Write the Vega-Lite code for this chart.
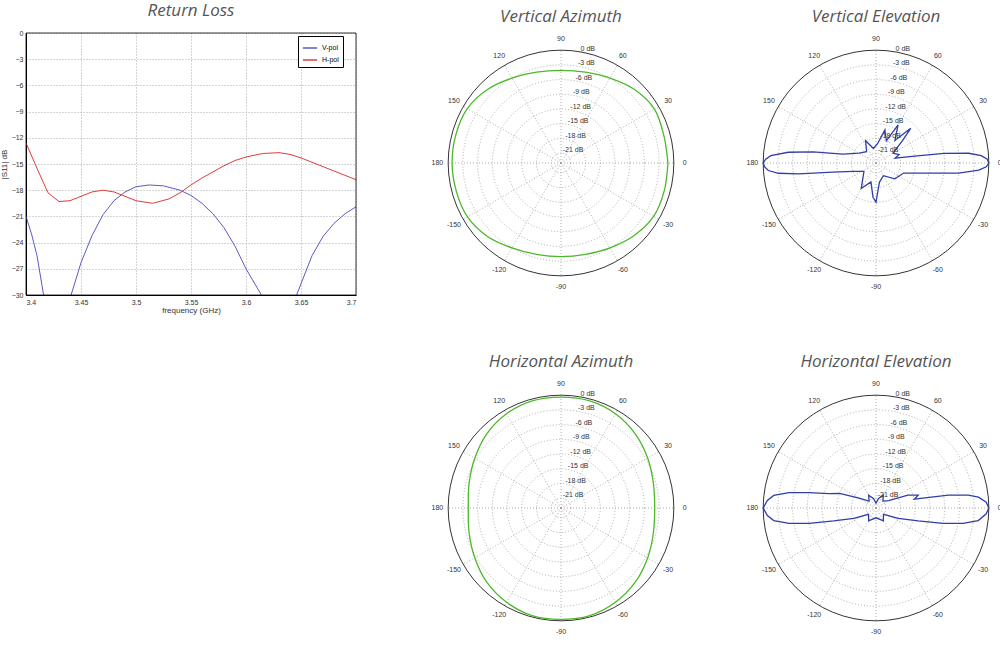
{
  "$schema": "https://vega.github.io/schema/vega-lite/v6.json",
  "padding": {"left": 0, "top": 2, "right": 0, "bottom": 0},
  "config": {
    "view": {"stroke": null},
    "font": "Liberation Sans",
    "title": {"font": "Open Sans", "fontStyle": "italic", "fontWeight": "normal", "fontSize": 17, "color": "#555555", "anchor": "middle", "offset": 7},
    "axis": {"labelFontSize": 7, "titleFontSize": 8, "titleFontWeight": "normal", "labelColor": "#333", "titleColor": "#333", "domainColor": "black", "tickColor": "black", "tickSize": 0, "labelPadding": 3, "labelOverlap": false, "gridColor": "#aaaaaa", "gridDash": [1, 2]}
  },
  "datasets": {
    "rl": [
      {"f": 3.40, "db": -21.0, "pol": "V-pol"}, {"f": 3.405, "db": -23.0, "pol": "V-pol"}, {"f": 3.41, "db": -25.5, "pol": "V-pol"},
      {"f": 3.416, "db": -30.0, "pol": "V-pol"}, {"f": 3.43, "db": -38.0, "pol": "V-pol"}, {"f": 3.441, "db": -30.0, "pol": "V-pol"},
      {"f": 3.45, "db": -26.3, "pol": "V-pol"}, {"f": 3.46, "db": -23.2, "pol": "V-pol"}, {"f": 3.47, "db": -20.8, "pol": "V-pol"},
      {"f": 3.48, "db": -19.2, "pol": "V-pol"}, {"f": 3.49, "db": -18.2, "pol": "V-pol"}, {"f": 3.50, "db": -17.6, "pol": "V-pol"},
      {"f": 3.512, "db": -17.4, "pol": "V-pol"}, {"f": 3.525, "db": -17.5, "pol": "V-pol"}, {"f": 3.54, "db": -18.0, "pol": "V-pol"},
      {"f": 3.55, "db": -18.6, "pol": "V-pol"}, {"f": 3.56, "db": -19.5, "pol": "V-pol"}, {"f": 3.57, "db": -20.7, "pol": "V-pol"},
      {"f": 3.58, "db": -22.3, "pol": "V-pol"}, {"f": 3.59, "db": -24.4, "pol": "V-pol"}, {"f": 3.60, "db": -27.0, "pol": "V-pol"},
      {"f": 3.614, "db": -30.0, "pol": "V-pol"}, {"f": 3.63, "db": -38.0, "pol": "V-pol"}, {"f": 3.646, "db": -30.0, "pol": "V-pol"},
      {"f": 3.66, "db": -25.5, "pol": "V-pol"}, {"f": 3.67, "db": -23.3, "pol": "V-pol"}, {"f": 3.68, "db": -21.8, "pol": "V-pol"},
      {"f": 3.69, "db": -20.7, "pol": "V-pol"}, {"f": 3.70, "db": -19.9, "pol": "V-pol"},
      {"f": 3.40, "db": -12.6, "pol": "H-pol"}, {"f": 3.41, "db": -15.5, "pol": "H-pol"}, {"f": 3.42, "db": -18.3, "pol": "H-pol"},
      {"f": 3.43, "db": -19.3, "pol": "H-pol"}, {"f": 3.44, "db": -19.2, "pol": "H-pol"}, {"f": 3.45, "db": -18.7, "pol": "H-pol"},
      {"f": 3.46, "db": -18.2, "pol": "H-pol"}, {"f": 3.47, "db": -18.0, "pol": "H-pol"}, {"f": 3.48, "db": -18.2, "pol": "H-pol"},
      {"f": 3.49, "db": -18.7, "pol": "H-pol"}, {"f": 3.50, "db": -19.2, "pol": "H-pol"}, {"f": 3.515, "db": -19.5, "pol": "H-pol"},
      {"f": 3.53, "db": -19.0, "pol": "H-pol"}, {"f": 3.54, "db": -18.3, "pol": "H-pol"}, {"f": 3.55, "db": -17.4, "pol": "H-pol"},
      {"f": 3.56, "db": -16.6, "pol": "H-pol"}, {"f": 3.57, "db": -15.9, "pol": "H-pol"}, {"f": 3.58, "db": -15.2, "pol": "H-pol"},
      {"f": 3.59, "db": -14.6, "pol": "H-pol"}, {"f": 3.60, "db": -14.2, "pol": "H-pol"}, {"f": 3.615, "db": -13.8, "pol": "H-pol"},
      {"f": 3.63, "db": -13.7, "pol": "H-pol"}, {"f": 3.64, "db": -13.9, "pol": "H-pol"}, {"f": 3.65, "db": -14.3, "pol": "H-pol"},
      {"f": 3.66, "db": -14.8, "pol": "H-pol"}, {"f": 3.67, "db": -15.3, "pol": "H-pol"}, {"f": 3.68, "db": -15.8, "pol": "H-pol"},
      {"f": 3.69, "db": -16.3, "pol": "H-pol"}, {"f": 3.70, "db": -16.8, "pol": "H-pol"}
    ],
    "rings": [{"db": -21}, {"db": -18}, {"db": -15}, {"db": -12}, {"db": -9}, {"db": -6}, {"db": -3}],
    "outer": [{"db": 0}],
    "spokes": [{"a": 0}, {"a": 30}, {"a": 60}, {"a": 90}, {"a": 120}, {"a": 150}, {"a": 180}, {"a": 210}, {"a": 240}, {"a": 270}, {"a": 300}, {"a": 330}],
    "angLabels": [
      {"a": 0, "t": "0"}, {"a": 30, "t": "30"}, {"a": 60, "t": "60"}, {"a": 90, "t": "90"}, {"a": 120, "t": "120"}, {"a": 150, "t": "150"},
      {"a": 180, "t": "180"}, {"a": 210, "t": "-150"}, {"a": 240, "t": "-120"}, {"a": 270, "t": "-90"}, {"a": 300, "t": "-60"}, {"a": 330, "t": "-30"}
    ],
    "dbLabels": [
      {"db": 0, "t": "0 dB"}, {"db": -3, "t": "-3 dB"}, {"db": -6, "t": "-6 dB"}, {"db": -9, "t": "-9 dB"},
      {"db": -12, "t": "-12 dB"}, {"db": -15, "t": "-15 dB"}, {"db": -18, "t": "-18 dB"}, {"db": -21, "t": "-21 dB"}
    ],
    "vaz": [
      {"a": 0, "db": -1.2}, {"a": 15, "db": -1.3}, {"a": 30, "db": -1.0}, {"a": 45, "db": -1.8}, {"a": 60, "db": -3.0}, {"a": 75, "db": -3.8},
      {"a": 90, "db": -4.1}, {"a": 105, "db": -3.8}, {"a": 120, "db": -3.0}, {"a": 135, "db": -1.8}, {"a": 150, "db": -0.9}, {"a": 165, "db": -0.8},
      {"a": 180, "db": -0.8}, {"a": 195, "db": -0.9}, {"a": 210, "db": -1.0}, {"a": 225, "db": -1.8}, {"a": 240, "db": -3.0}, {"a": 255, "db": -3.7},
      {"a": 270, "db": -3.9}, {"a": 285, "db": -3.7}, {"a": 300, "db": -3.0}, {"a": 315, "db": -2.0}, {"a": 330, "db": -1.2}, {"a": 345, "db": -1.2},
      {"a": 360, "db": -1.2}
    ],
    "haz": [
      {"a": 0, "db": -3.9}, {"a": 15, "db": -3.5}, {"a": 30, "db": -2.6}, {"a": 45, "db": -1.6}, {"a": 60, "db": -0.8}, {"a": 75, "db": -0.4},
      {"a": 90, "db": -0.4}, {"a": 105, "db": -0.4}, {"a": 120, "db": -0.8}, {"a": 135, "db": -1.6}, {"a": 150, "db": -2.7}, {"a": 165, "db": -3.6},
      {"a": 180, "db": -4.1}, {"a": 195, "db": -3.6}, {"a": 210, "db": -2.7}, {"a": 225, "db": -1.6}, {"a": 240, "db": -0.8}, {"a": 255, "db": -0.3},
      {"a": 270, "db": -0.3}, {"a": 285, "db": -0.3}, {"a": 300, "db": -0.8}, {"a": 315, "db": -1.6}, {"a": 330, "db": -2.6}, {"a": 345, "db": -3.5},
      {"a": 360, "db": -3.9}
    ],
    "vel": [
      {"a": 0, "db": 0}, {"a": 2, "db": -0.3}, {"a": 4, "db": -1.5}, {"a": 6, "db": -4}, {"a": 8, "db": -9}, {"a": 10, "db": -15},
      {"a": 14, "db": -19}, {"a": 20, "db": -18}, {"a": 30, "db": -19}, {"a": 40, "db": -16}, {"a": 45, "db": -13}, {"a": 50, "db": -17},
      {"a": 60, "db": -14}, {"a": 65, "db": -18}, {"a": 75, "db": -16}, {"a": 85, "db": -19}, {"a": 100, "db": -20}, {"a": 115, "db": -18},
      {"a": 130, "db": -20}, {"a": 150, "db": -19}, {"a": 165, "db": -16}, {"a": 170, "db": -10}, {"a": 173, "db": -5}, {"a": 176, "db": -1.5},
      {"a": 178, "db": -0.5}, {"a": 180, "db": 0}, {"a": 182, "db": -0.3}, {"a": 184, "db": -1}, {"a": 186, "db": -3}, {"a": 188, "db": -7},
      {"a": 192, "db": -14}, {"a": 200, "db": -18}, {"a": 215, "db": -20}, {"a": 240, "db": -17}, {"a": 255, "db": -19}, {"a": 265, "db": -16},
      {"a": 270, "db": -15}, {"a": 280, "db": -19}, {"a": 300, "db": -20}, {"a": 320, "db": -18}, {"a": 340, "db": -17}, {"a": 350, "db": -11},
      {"a": 353, "db": -6}, {"a": 356, "db": -2}, {"a": 358, "db": -0.5}, {"a": 360, "db": 0}
    ],
    "hel": [
      {"a": 0, "db": 0}, {"a": 3, "db": -0.5}, {"a": 6, "db": -2}, {"a": 8, "db": -4}, {"a": 10, "db": -8}, {"a": 13, "db": -15},
      {"a": 17, "db": -14}, {"a": 22, "db": -16}, {"a": 30, "db": -20}, {"a": 45, "db": -21}, {"a": 60, "db": -20}, {"a": 75, "db": -21},
      {"a": 90, "db": -22}, {"a": 105, "db": -21}, {"a": 120, "db": -20}, {"a": 135, "db": -21}, {"a": 150, "db": -19}, {"a": 158, "db": -15},
      {"a": 163, "db": -13}, {"a": 167, "db": -9}, {"a": 170, "db": -5}, {"a": 173, "db": -2}, {"a": 176, "db": -0.8}, {"a": 180, "db": 0},
      {"a": 184, "db": -0.8}, {"a": 187, "db": -2}, {"a": 190, "db": -5}, {"a": 193, "db": -9}, {"a": 197, "db": -14}, {"a": 205, "db": -18},
      {"a": 220, "db": -21}, {"a": 240, "db": -20}, {"a": 270, "db": -21}, {"a": 300, "db": -20}, {"a": 320, "db": -21}, {"a": 335, "db": -18},
      {"a": 343, "db": -14}, {"a": 347, "db": -9}, {"a": 350, "db": -5}, {"a": 353, "db": -2}, {"a": 357, "db": -0.5}, {"a": 360, "db": 0}
    ]
  },
  "spacing": 74,
  "hconcat": [
    {
      "title": {"text": "Return Loss", "offset": 9},
      "width": 330,
      "height": 262,
      "layer": [
        {
          "data": {"name": "rl"},
          "mark": {"type": "line", "clip": true, "strokeWidth": 1},
          "encoding": {
            "x": {"field": "f", "type": "quantitative", "title": "frequency (GHz)", "scale": {"domain": [3.4, 3.7], "nice": false},
                  "axis": {"values": [3.4, 3.45, 3.5, 3.55, 3.6, 3.65, 3.7], "format": "~g", "titlePadding": 1}},
            "y": {"field": "db", "type": "quantitative", "title": "|S11| dB", "scale": {"domain": [-30, 0], "nice": false},
                  "axis": {"values": [-30, -27, -24, -21, -18, -15, -12, -9, -6, -3, 0], "tickCount": 11, "labelOverlap": false, "labelFlush": false, "titlePadding": 3}},
            "color": {"field": "pol", "type": "nominal", "title": null, "sort": ["V-pol", "H-pol"],
                      "scale": {"domain": ["V-pol", "H-pol"], "range": ["#5a5ac8", "#e03c3c"]},
                      "legend": {"orient": "none", "legendX": 272, "legendY": 3, "strokeColor": "black", "fillColor": "white", "padding": 4,
                                 "labelFontSize": 7, "symbolType": "stroke", "symbolSize": 200, "rowPadding": 1}}
          }
        },
        {
          "data": {"values": [{"x0": 3.4, "x1": 3.7, "y0": -30, "y1": 0}]},
          "mark": {"type": "rect", "fill": null, "stroke": "black", "strokeWidth": 0.8},
          "encoding": {"x": {"field": "x0", "type": "quantitative"}, "x2": {"field": "x1"}, "y": {"field": "y0", "type": "quantitative"}, "y2": {"field": "y1"}}
        }
      ]
    },
    {
      "spacing": 55,
      "hconcat": [
        {
          "spacing": 60,
          "vconcat": [
            {
              "title": "Vertical Azimuth", "width": 260, "height": 260,
              "layer": [
                {"data": {"name": "rings"}, "transform": [{"calculate": "datum.db + 23", "as": "r"}, {"calculate": "0", "as": "c"}],
                 "mark": {"type": "point", "shape": "circle", "filled": false, "stroke": "#999999", "strokeDash": [1, 2], "strokeWidth": 0.8, "opacity": 1},
                 "encoding": {"x": {"field": "c", "type": "quantitative", "scale": {"domain": [-26.5, 26.5], "nice": false}, "axis": null},
                              "y": {"field": "c", "type": "quantitative", "scale": {"domain": [-26.5, 26.5], "nice": false}, "axis": null},
                              "size": {"field": "r", "type": "quantitative", "legend": null, "scale": {"type": "pow", "exponent": 2, "domain": [0, 26.5], "range": [0, 67600], "zero": true}}}},
                {"data": {"name": "outer"}, "transform": [{"calculate": "datum.db + 23", "as": "r"}, {"calculate": "0", "as": "c"}],
                 "mark": {"type": "point", "shape": "circle", "filled": false, "stroke": "black", "strokeWidth": 0.8, "opacity": 1},
                 "encoding": {"x": {"field": "c", "type": "quantitative"}, "y": {"field": "c", "type": "quantitative"},
                              "size": {"field": "r", "type": "quantitative", "legend": null, "scale": {"type": "pow", "exponent": 2, "domain": [0, 26.5], "range": [0, 67600], "zero": true}}}},
                {"data": {"name": "spokes"}, "transform": [{"calculate": "0", "as": "c"}, {"calculate": "23*cos(datum.a*PI/180)", "as": "x2"}, {"calculate": "23*sin(datum.a*PI/180)", "as": "y2"}],
                 "mark": {"type": "rule", "stroke": "#999999", "strokeDash": [1, 2], "strokeWidth": 0.8},
                 "encoding": {"x": {"field": "c", "type": "quantitative"}, "y": {"field": "c", "type": "quantitative"}, "x2": {"field": "x2"}, "y2": {"field": "y2"}}},
                {"data": {"name": "vaz"}, "transform": [{"calculate": "max(0, datum.db + 23)", "as": "r"}, {"calculate": "datum.r*cos(datum.a*PI/180)", "as": "x"}, {"calculate": "datum.r*sin(datum.a*PI/180)", "as": "y"}],
                 "mark": {"type": "line", "color": "#4cb82a", "strokeWidth": 1.3, "interpolate": "cardinal"},
                 "encoding": {"x": {"field": "x", "type": "quantitative"}, "y": {"field": "y", "type": "quantitative"}, "order": {"field": "a", "type": "quantitative"}}},
                {"data": {"name": "angLabels"}, "transform": [{"calculate": "25.2*cos(datum.a*PI/180)", "as": "x"}, {"calculate": "25.2*sin(datum.a*PI/180)", "as": "y"}],
                 "mark": {"type": "text", "fontSize": 7, "color": "#333", "baseline": "middle"},
                 "encoding": {"x": {"field": "x", "type": "quantitative"}, "y": {"field": "y", "type": "quantitative"}, "text": {"field": "t", "type": "nominal"}}},
                {"data": {"name": "dbLabels"}, "transform": [{"calculate": "(datum.db + 23)*cos(80*PI/180)", "as": "x"}, {"calculate": "(datum.db + 23)*sin(80*PI/180)", "as": "y"}],
                 "mark": {"type": "text", "fontSize": 7, "color": "#333", "align": "left", "baseline": "bottom"},
                 "encoding": {"x": {"field": "x", "type": "quantitative"}, "y": {"field": "y", "type": "quantitative"}, "text": {"field": "t", "type": "nominal"}}}
              ]
            },
            {
              "title": "Horizontal Azimuth", "width": 260, "height": 260,
              "layer": [
                {"data": {"name": "rings"}, "transform": [{"calculate": "datum.db + 23", "as": "r"}, {"calculate": "0", "as": "c"}],
                 "mark": {"type": "point", "shape": "circle", "filled": false, "stroke": "#999999", "strokeDash": [1, 2], "strokeWidth": 0.8, "opacity": 1},
                 "encoding": {"x": {"field": "c", "type": "quantitative", "scale": {"domain": [-26.5, 26.5], "nice": false}, "axis": null},
                              "y": {"field": "c", "type": "quantitative", "scale": {"domain": [-26.5, 26.5], "nice": false}, "axis": null},
                              "size": {"field": "r", "type": "quantitative", "legend": null, "scale": {"type": "pow", "exponent": 2, "domain": [0, 26.5], "range": [0, 67600], "zero": true}}}},
                {"data": {"name": "outer"}, "transform": [{"calculate": "datum.db + 23", "as": "r"}, {"calculate": "0", "as": "c"}],
                 "mark": {"type": "point", "shape": "circle", "filled": false, "stroke": "black", "strokeWidth": 0.8, "opacity": 1},
                 "encoding": {"x": {"field": "c", "type": "quantitative"}, "y": {"field": "c", "type": "quantitative"},
                              "size": {"field": "r", "type": "quantitative", "legend": null, "scale": {"type": "pow", "exponent": 2, "domain": [0, 26.5], "range": [0, 67600], "zero": true}}}},
                {"data": {"name": "spokes"}, "transform": [{"calculate": "0", "as": "c"}, {"calculate": "23*cos(datum.a*PI/180)", "as": "x2"}, {"calculate": "23*sin(datum.a*PI/180)", "as": "y2"}],
                 "mark": {"type": "rule", "stroke": "#999999", "strokeDash": [1, 2], "strokeWidth": 0.8},
                 "encoding": {"x": {"field": "c", "type": "quantitative"}, "y": {"field": "c", "type": "quantitative"}, "x2": {"field": "x2"}, "y2": {"field": "y2"}}},
                {"data": {"name": "haz"}, "transform": [{"calculate": "max(0, datum.db + 23)", "as": "r"}, {"calculate": "datum.r*cos(datum.a*PI/180)", "as": "x"}, {"calculate": "datum.r*sin(datum.a*PI/180)", "as": "y"}],
                 "mark": {"type": "line", "color": "#4cb82a", "strokeWidth": 1.3, "interpolate": "cardinal"},
                 "encoding": {"x": {"field": "x", "type": "quantitative"}, "y": {"field": "y", "type": "quantitative"}, "order": {"field": "a", "type": "quantitative"}}},
                {"data": {"name": "angLabels"}, "transform": [{"calculate": "25.2*cos(datum.a*PI/180)", "as": "x"}, {"calculate": "25.2*sin(datum.a*PI/180)", "as": "y"}],
                 "mark": {"type": "text", "fontSize": 7, "color": "#333", "baseline": "middle"},
                 "encoding": {"x": {"field": "x", "type": "quantitative"}, "y": {"field": "y", "type": "quantitative"}, "text": {"field": "t", "type": "nominal"}}},
                {"data": {"name": "dbLabels"}, "transform": [{"calculate": "(datum.db + 23)*cos(80*PI/180)", "as": "x"}, {"calculate": "(datum.db + 23)*sin(80*PI/180)", "as": "y"}],
                 "mark": {"type": "text", "fontSize": 7, "color": "#333", "align": "left", "baseline": "bottom"},
                 "encoding": {"x": {"field": "x", "type": "quantitative"}, "y": {"field": "y", "type": "quantitative"}, "text": {"field": "t", "type": "nominal"}}}
              ]
            }
          ]
        },
        {
          "spacing": 60,
          "vconcat": [
            {
              "title": "Vertical Elevation", "width": 260, "height": 260,
              "layer": [
                {"data": {"name": "rings"}, "transform": [{"calculate": "datum.db + 23", "as": "r"}, {"calculate": "0", "as": "c"}],
                 "mark": {"type": "point", "shape": "circle", "filled": false, "stroke": "#999999", "strokeDash": [1, 2], "strokeWidth": 0.8, "opacity": 1},
                 "encoding": {"x": {"field": "c", "type": "quantitative", "scale": {"domain": [-26.5, 26.5], "nice": false}, "axis": null},
                              "y": {"field": "c", "type": "quantitative", "scale": {"domain": [-26.5, 26.5], "nice": false}, "axis": null},
                              "size": {"field": "r", "type": "quantitative", "legend": null, "scale": {"type": "pow", "exponent": 2, "domain": [0, 26.5], "range": [0, 67600], "zero": true}}}},
                {"data": {"name": "outer"}, "transform": [{"calculate": "datum.db + 23", "as": "r"}, {"calculate": "0", "as": "c"}],
                 "mark": {"type": "point", "shape": "circle", "filled": false, "stroke": "black", "strokeWidth": 0.8, "opacity": 1},
                 "encoding": {"x": {"field": "c", "type": "quantitative"}, "y": {"field": "c", "type": "quantitative"},
                              "size": {"field": "r", "type": "quantitative", "legend": null, "scale": {"type": "pow", "exponent": 2, "domain": [0, 26.5], "range": [0, 67600], "zero": true}}}},
                {"data": {"name": "spokes"}, "transform": [{"calculate": "0", "as": "c"}, {"calculate": "23*cos(datum.a*PI/180)", "as": "x2"}, {"calculate": "23*sin(datum.a*PI/180)", "as": "y2"}],
                 "mark": {"type": "rule", "stroke": "#999999", "strokeDash": [1, 2], "strokeWidth": 0.8},
                 "encoding": {"x": {"field": "c", "type": "quantitative"}, "y": {"field": "c", "type": "quantitative"}, "x2": {"field": "x2"}, "y2": {"field": "y2"}}},
                {"data": {"name": "vel"}, "transform": [{"calculate": "max(0, datum.db + 23)", "as": "r"}, {"calculate": "datum.r*cos(datum.a*PI/180)", "as": "x"}, {"calculate": "datum.r*sin(datum.a*PI/180)", "as": "y"}],
                 "mark": {"type": "line", "color": "#2f3fa8", "strokeWidth": 1.3},
                 "encoding": {"x": {"field": "x", "type": "quantitative"}, "y": {"field": "y", "type": "quantitative"}, "order": {"field": "a", "type": "quantitative"}}},
                {"data": {"name": "angLabels"}, "transform": [{"calculate": "25.2*cos(datum.a*PI/180)", "as": "x"}, {"calculate": "25.2*sin(datum.a*PI/180)", "as": "y"}],
                 "mark": {"type": "text", "fontSize": 7, "color": "#333", "baseline": "middle"},
                 "encoding": {"x": {"field": "x", "type": "quantitative"}, "y": {"field": "y", "type": "quantitative"}, "text": {"field": "t", "type": "nominal"}}},
                {"data": {"name": "dbLabels"}, "transform": [{"calculate": "(datum.db + 23)*cos(80*PI/180)", "as": "x"}, {"calculate": "(datum.db + 23)*sin(80*PI/180)", "as": "y"}],
                 "mark": {"type": "text", "fontSize": 7, "color": "#333", "align": "left", "baseline": "bottom"},
                 "encoding": {"x": {"field": "x", "type": "quantitative"}, "y": {"field": "y", "type": "quantitative"}, "text": {"field": "t", "type": "nominal"}}}
              ]
            },
            {
              "title": "Horizontal Elevation", "width": 260, "height": 260,
              "layer": [
                {"data": {"name": "rings"}, "transform": [{"calculate": "datum.db + 23", "as": "r"}, {"calculate": "0", "as": "c"}],
                 "mark": {"type": "point", "shape": "circle", "filled": false, "stroke": "#999999", "strokeDash": [1, 2], "strokeWidth": 0.8, "opacity": 1},
                 "encoding": {"x": {"field": "c", "type": "quantitative", "scale": {"domain": [-26.5, 26.5], "nice": false}, "axis": null},
                              "y": {"field": "c", "type": "quantitative", "scale": {"domain": [-26.5, 26.5], "nice": false}, "axis": null},
                              "size": {"field": "r", "type": "quantitative", "legend": null, "scale": {"type": "pow", "exponent": 2, "domain": [0, 26.5], "range": [0, 67600], "zero": true}}}},
                {"data": {"name": "outer"}, "transform": [{"calculate": "datum.db + 23", "as": "r"}, {"calculate": "0", "as": "c"}],
                 "mark": {"type": "point", "shape": "circle", "filled": false, "stroke": "black", "strokeWidth": 0.8, "opacity": 1},
                 "encoding": {"x": {"field": "c", "type": "quantitative"}, "y": {"field": "c", "type": "quantitative"},
                              "size": {"field": "r", "type": "quantitative", "legend": null, "scale": {"type": "pow", "exponent": 2, "domain": [0, 26.5], "range": [0, 67600], "zero": true}}}},
                {"data": {"name": "spokes"}, "transform": [{"calculate": "0", "as": "c"}, {"calculate": "23*cos(datum.a*PI/180)", "as": "x2"}, {"calculate": "23*sin(datum.a*PI/180)", "as": "y2"}],
                 "mark": {"type": "rule", "stroke": "#999999", "strokeDash": [1, 2], "strokeWidth": 0.8},
                 "encoding": {"x": {"field": "c", "type": "quantitative"}, "y": {"field": "c", "type": "quantitative"}, "x2": {"field": "x2"}, "y2": {"field": "y2"}}},
                {"data": {"name": "hel"}, "transform": [{"calculate": "max(0, datum.db + 23)", "as": "r"}, {"calculate": "datum.r*cos(datum.a*PI/180)", "as": "x"}, {"calculate": "datum.r*sin(datum.a*PI/180)", "as": "y"}],
                 "mark": {"type": "line", "color": "#2f3fa8", "strokeWidth": 1.3},
                 "encoding": {"x": {"field": "x", "type": "quantitative"}, "y": {"field": "y", "type": "quantitative"}, "order": {"field": "a", "type": "quantitative"}}},
                {"data": {"name": "angLabels"}, "transform": [{"calculate": "25.2*cos(datum.a*PI/180)", "as": "x"}, {"calculate": "25.2*sin(datum.a*PI/180)", "as": "y"}],
                 "mark": {"type": "text", "fontSize": 7, "color": "#333", "baseline": "middle"},
                 "encoding": {"x": {"field": "x", "type": "quantitative"}, "y": {"field": "y", "type": "quantitative"}, "text": {"field": "t", "type": "nominal"}}},
                {"data": {"name": "dbLabels"}, "transform": [{"calculate": "(datum.db + 23)*cos(80*PI/180)", "as": "x"}, {"calculate": "(datum.db + 23)*sin(80*PI/180)", "as": "y"}],
                 "mark": {"type": "text", "fontSize": 7, "color": "#333", "align": "left", "baseline": "bottom"},
                 "encoding": {"x": {"field": "x", "type": "quantitative"}, "y": {"field": "y", "type": "quantitative"}, "text": {"field": "t", "type": "nominal"}}}
              ]
            }
          ]
        }
      ]
    }
  ]
}
